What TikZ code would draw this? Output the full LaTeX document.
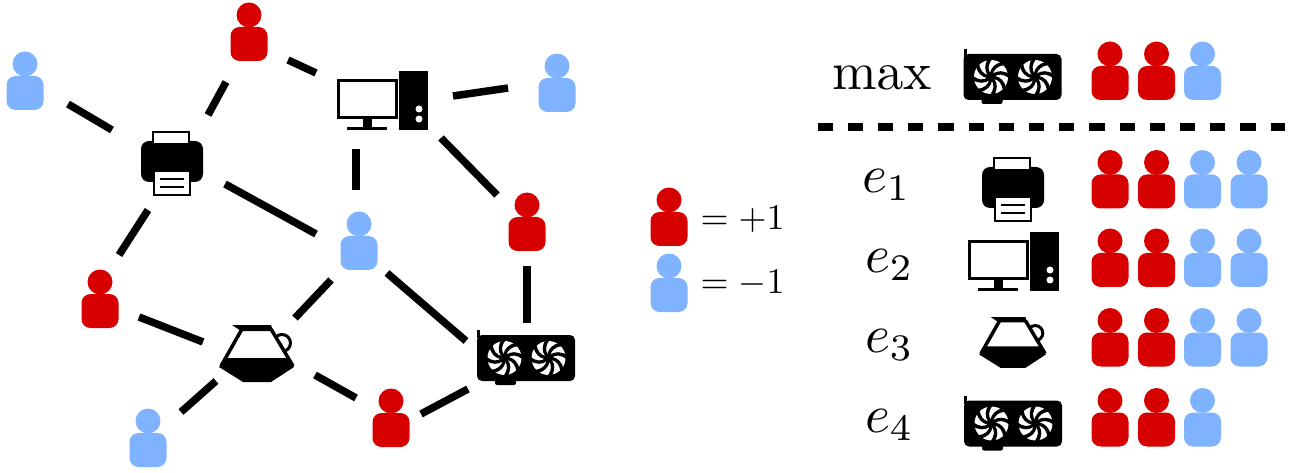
\documentclass[tikz,border=0pt]{standalone}
\definecolor{pred}{RGB}{214,0,0}
\definecolor{pblue}{RGB}{128,179,255}
\tikzset{x=1pt,y=-1pt,
  edgeline/.style={line width=7.5pt,black},
  hub/.style={inner sep=0pt,minimum width=30pt,minimum height=30pt},
  txt/.style={inner sep=0pt,anchor=base west},
  pics/printer/.style={code={
    \fill[black,rounded corners=8pt] (-31,-22) rectangle (31,19);
    \draw[black,fill=white,line width=1.2pt] (-19,-31) rectangle (17,-19);
    \draw[black,fill=white,line width=1.2pt] (-18,8) rectangle (18,32);
    \draw[black,line width=2.5pt] (-12,16) -- (12,16) (-12,24) -- (12,24);
  }},
  pics/computer/.style={code={
    \draw[black,fill=white,line width=3pt] (-43.5,-19.5) rectangle (14.5,17.5);
    \fill[black] (-19,19) rectangle (-10,27);
    \fill[black] (-35,27) rectangle (5,30);
    \fill[black] (17,-29) rectangle (46,30);
    \fill[white] (37,9) circle (3.5pt) (37,19) circle (3.5pt);
  }},
  pics/jug/.style={code={
    \draw[black,line width=3pt] (25,-10) circle (8.5pt);
    \fill[white] (14,-24) -- (-16,-24) -- (-37,13) -- (36,13) -- cycle;
    \draw[black,line width=3.5pt] (-15,-24) -- (-36,13) (14,-24) -- (36,13);
    \fill[black] (-25,-28) -- (14,-28) -- (16,-22) -- (-16,-22) -- cycle;
    \fill[black] (-30,5) -- (30,5) -- (37,14) -- (14,29) -- (-14,29) -- (-38,14) -- cycle;
  }},
  pics/fan/.style={code={
    \fill[white] (0,0) circle (17pt);
    \foreach \a in {0,45,...,315} {
      \fill[black,rotate=\a] (4,-1) .. controls (9,0) and (14,4) .. (15,11.5)
         -- (12,13.5) .. controls (11,7) and (8,3) .. (3,2) -- cycle;
    }
    \fill[black] (0,0) circle (4.5pt);
  }},
  pics/gpu/.style={code={
    \fill[black] (-49,-28) rectangle (-46,-20);
    \fill[black,rounded corners=5pt] (-49,-23) rectangle (49,23);
    \fill[black,rounded corners=2pt] (-31,20) rectangle (-10,27);
    \pic at (-21.5,0) {fan};
    \pic at (22.5,0) {fan};
  }}
}
% name, x, y of head centre, colour
\newcommand{\person}[4]{%
  \node[inner sep=0pt,minimum width=37pt,minimum height=58pt] (#1) at (#2,#3+17) {};
  \fill[#4] (#2,#3) circle (12.5pt);
  \fill[#4,rounded corners=9pt] (#2-18.5,#3+12) rectangle (#2+18.5,#3+46);
}
\begin{document}
\begin{tikzpicture}
\useasboundingbox (0,0) rectangle (1291,473);
% graph people
\person{ptop}{249}{15}{pred}
\person{pbl}{25}{64}{pblue}
\person{pbr}{557}{66}{pblue}
\person{prr}{527}{205}{pred}
\person{pcc}{359}{224}{pblue}
\person{prl}{100}{282}{pred}
\person{pbb}{148}{421}{pblue}
\person{prb}{391}{401}{pred}
% graph devices
\node[hub] (print) at (172,163) {};
\pic at (print) {printer};
\node[hub] (comp) at (382,100) {};
\pic at (comp) {computer};
\node[hub] (jug) at (257,353) {};
\pic at (jug) {jug};
\node[hub] (gpu) at (526,358) {};
\pic at (gpu) {gpu};
% connectors
\draw[edgeline] ([shift={(43,23)}]pbl.center) -- ([shift={(-60,-33)}]print.center);
\draw[edgeline] ([shift={(-23,50)}]ptop.center) -- ([shift={(36,-48)}]print.center);
\draw[edgeline] ([shift={(39,28)}]ptop.center) -- ([shift={(-66,-27)}]comp.center);
\draw[edgeline] ([shift={(71,-4)}]comp.center) -- ([shift={(-49,5)}]pbr.center);
\draw[edgeline] ([shift={(-26,49)}]comp.center) -- ([shift={(-3,-51)}]pcc.center);
\draw[edgeline] ([shift={(59,38)}]comp.center) -- ([shift={(-30,-27)}]prr.center);
\draw[edgeline] ([shift={(53,21)}]print.center) -- ([shift={(-43,-7)}]pcc.center);
\draw[edgeline] ([shift={(-24,47)}]print.center) -- ([shift={(19,-44)}]prl.center);
\draw[edgeline] ([shift={(-28,39)}]pcc.center) -- ([shift={(38,-35)}]jug.center);
\draw[edgeline] ([shift={(28,32)}]pcc.center) -- ([shift={(-60,-17)}]gpu.center);
\draw[edgeline] ([shift={(0,44)}]prr.center) -- ([shift={(1,-35)}]gpu.center);
\draw[edgeline] ([shift={(39,18)}]prl.center) -- ([shift={(-54,-11)}]jug.center);
\draw[edgeline] ([shift={(-41,28)}]jug.center) -- ([shift={(33,-26)}]pbb.center);
\draw[edgeline] ([shift={(58,22)}]jug.center) -- ([shift={(-35,-20)}]prb.center);
\draw[edgeline] ([shift={(30,-4)}]prb.center) -- ([shift={(-58,31)}]gpu.center);
% legend
\person{lplus}{669}{200}{pred}
\person{lminus}{669}{266}{pblue}
\node[txt,scale=3.6] (lplust) at (700,229.5) {$=+1$};
\node[txt,scale=3.6] (lminust) at (700,293.5) {$=-1$};
% panel
\node[txt,scale=5.35] (tmax) at (831,89.5) {$\max$};
\node[hub] (g0) at (1012.5,77) {};
\pic at (g0) {gpu};
\person{a1}{1110}{54}{pred}
\person{a2}{1156.5}{54}{pred}
\person{a3}{1202.5}{54}{pblue}
\draw[line width=7.5pt,dash pattern=on 15.2pt off 15pt] (817.5,127) -- (1285,127);
\node[txt,scale=5.35] (te1) at (861,192.5) {$e_1$};
\node[hub] (pr1) at (1013,189) {};
\pic at (pr1) {printer};
\person{b1}{1110}{162.5}{pred}
\person{b2}{1156.5}{162.5}{pred}
\person{b3}{1202.5}{162.5}{pblue}
\person{b4}{1249}{162.5}{pblue}
\node[txt,scale=5.35] (te2) at (864,272.5) {$e_2$};
\node[hub] (co1) at (1013,261) {};
\pic at (co1) {computer};
\person{c1}{1110}{241}{pred}
\person{c2}{1156.5}{241}{pred}
\person{c3}{1202.5}{241}{pblue}
\person{c4}{1249}{241}{pblue}
\node[txt,scale=5.35] (te3) at (864,352.5) {$e_3$};
\node[hub] (ju1) at (1013,342) {};
\pic[scale=0.89] at (ju1) {jug};
\person{d1}{1110}{320.5}{pred}
\person{d2}{1156.5}{320.5}{pred}
\person{d3}{1202.5}{320.5}{pblue}
\person{d4}{1249}{320.5}{pblue}
\node[txt,scale=5.35] (te4) at (864,432.5) {$e_4$};
\node[hub] (g1) at (1013,423.5) {};
\pic at (g1) {gpu};
\person{f1}{1110}{400.5}{pred}
\person{f2}{1156.5}{400.5}{pred}
\person{f3}{1202.5}{400.5}{pblue}
\end{tikzpicture}
\end{document}
